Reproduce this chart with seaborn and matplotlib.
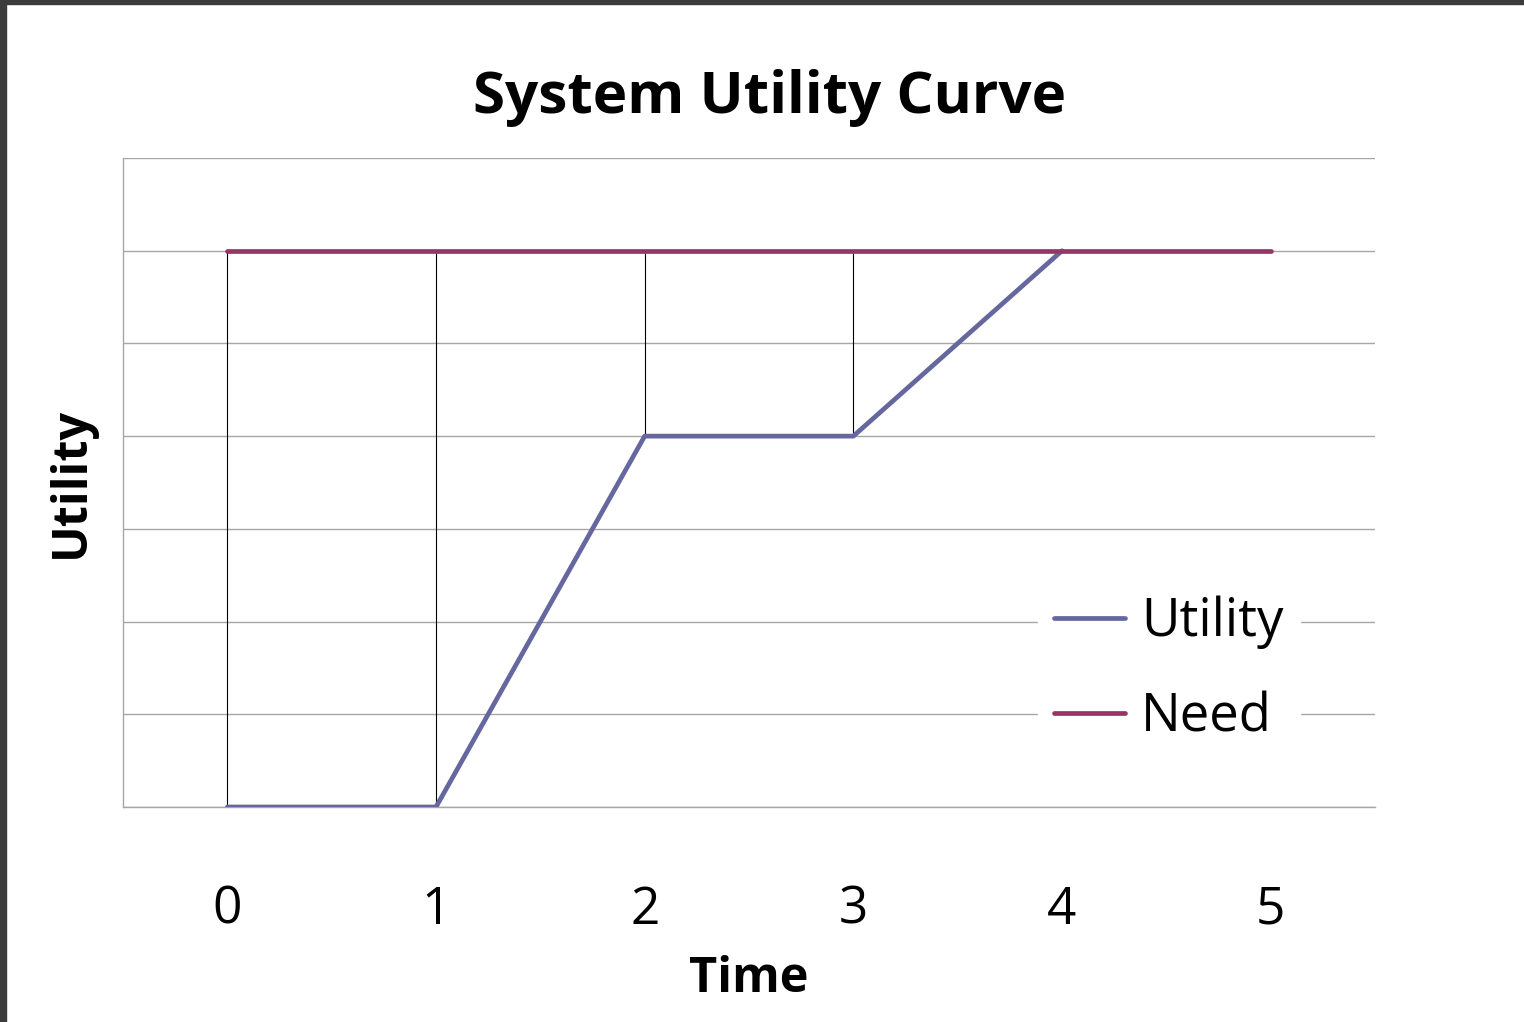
import matplotlib
matplotlib.use("Agg")
import matplotlib.pyplot as plt
import seaborn as sns
import pandas as pd
import numpy as np
from matplotlib.patches import Rectangle

# Data
time_points = [0, 1, 2, 3, 4, 5]
utility_values = [0, 0, 4, 4, 6, np.nan]
need_values = [6, 6, 6, 6, 6, 6]
series_names = ["Utility", "Need"]
series_colors = ["#65679e", "#9b3466"]

df = pd.DataFrame({
    "Time": time_points * 2,
    "Value": utility_values + need_values,
    "Series": [series_names[0]] * len(time_points) + [series_names[1]] * len(time_points),
})

sns.set_theme(style="white")
plt.rcParams["font.family"] = ["Open Sans", "DejaVu Sans"]
plt.rcParams["text.color"] = "black"
plt.rcParams["axes.labelcolor"] = "black"
plt.rcParams["xtick.color"] = "black"
plt.rcParams["ytick.color"] = "black"

fig = plt.figure(figsize=(15.24, 10.22), dpi=100)
ax = fig.add_axes([123 / 1524, 215 / 1022, (1375 - 123) / 1524, (807 - 158) / 1022])

# High-low lines between series
for t, u, n in zip(time_points, utility_values, need_values):
    if not np.isnan(u) and u != n:
        ax.vlines(t, min(u, n), max(u, n), color="black", lw=0.8, zorder=2)

sns.lineplot(data=df, x="Time", y="Value", hue="Series", palette=series_colors,
             hue_order=series_names, lw=3.4, ax=ax, zorder=3, legend=True)
for line in ax.get_lines():
    line.set_solid_capstyle("round")

ax.set_xlim(-0.5, 5.5)
ax.set_ylim(0, 7)
ax.set_xticks(time_points)
ax.set_xticklabels([str(t) for t in time_points], fontsize=37)
ax.set_yticks(range(0, 8))
ax.set_yticklabels([])
ax.tick_params(axis="both", length=0)
ax.tick_params(axis="x", pad=56)
ax.yaxis.grid(True, color="#a6a6a6", lw=1.0)
ax.set_axisbelow(True)
for s in ["right", "top"]:
    ax.spines[s].set_visible(False)
for s in ["left", "bottom"]:
    ax.spines[s].set_color("#a6a6a6")
    ax.spines[s].set_linewidth(1.0)

ax.set_xlabel("Time", fontsize=35, fontweight="bold", labelpad=14)
ax.set_ylabel("Utility", fontsize=35, fontweight="bold", labelpad=16)

fig.suptitle("System Utility Curve", fontsize=42, fontweight="bold", x=0.505, y=0.932)

leg = ax.legend(loc="center left", bbox_to_anchor=(1012 / 1524, 1 - 670 / 1022),
                bbox_transform=fig.transFigure, fontsize=38, frameon=True,
                handlelength=1.35, handletextpad=0.3, labelspacing=0.78,
                borderpad=0.3, fancybox=False)
leg.get_frame().set_facecolor("white")
leg.get_frame().set_edgecolor("white")
leg.get_frame().set_alpha(1)
for h in leg.get_lines():
    h.set_linewidth(3.4)
    h.set_solid_capstyle("round")

# Screenshot frame
fig.patches.append(Rectangle((0, 0), 6 / 1524, 1, transform=fig.transFigure,
                             color="#3c3c3c", zorder=10))
fig.patches.append(Rectangle((0, 1 - 4 / 1022), 1, 4 / 1022, transform=fig.transFigure,
                             color="#3c3c3c", zorder=10))

fig.savefig("out.png", dpi=100)
